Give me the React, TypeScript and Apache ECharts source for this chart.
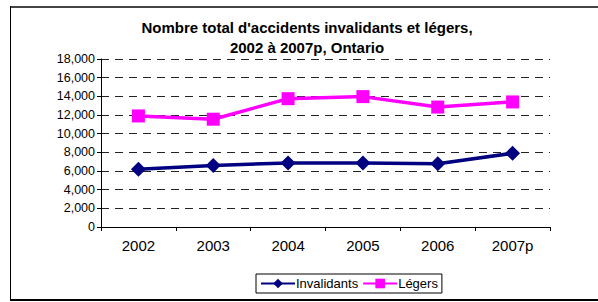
import React, { useEffect, useRef } from "react";
import * as echarts from "echarts";

const categories = ["2002", "2003", "2004", "2005", "2006", "2007p"];
const invalidants = [6200, 6580, 6870, 6860, 6780, 7900];
const legers = [11900, 11550, 13750, 13970, 12850, 13400];
const titleLines = ["Nombre total d'accidents invalidants et légers,", "2002 à 2007p, Ontario"];

const FONT = "'Liberation Sans', Arial, sans-serif";

export default function App() {
  const ref = useRef<HTMLDivElement>(null);
  useEffect(() => {
    document.body.style.margin = "0";
    const chart = echarts.init(ref.current!, null, { renderer: "svg" });
    chart.setOption({
      animation: false,
      backgroundColor: "#fff",
      title: {
        text: titleLines.join("\n"),
        left: 302,
        top: 12,
        textAlign: "center",
        textStyle: { fontFamily: FONT, fontSize: 15, fontWeight: "bold", color: "#000", lineHeight: 20 },
      },
      graphic: [
        { type: "line", shape: { x1: 10, y1: 7, x2: 598, y2: 7 }, style: { stroke: "#444", lineWidth: 2 } },
        { type: "line", shape: { x1: 10.5, y1: 6, x2: 10.5, y2: 300 }, style: { stroke: "#000", lineWidth: 1 } },
        { type: "line", shape: { x1: 10, y1: 300, x2: 598, y2: 300 }, style: { stroke: "#000", lineWidth: 2 } },
      ],
      grid: { left: 101, top: 59, width: 449, height: 168, containLabel: false },
      legend: {
        left: 256,
        top: 274,
        padding: [3, 4, 3, 4],
        borderColor: "#000",
        borderWidth: 1,
        itemWidth: 34,
        itemHeight: 12,
        itemGap: 4,
        textStyle: { fontFamily: FONT, fontSize: 13, color: "#000", padding: [0, 0, 0, -4] },
        data: ["Invalidants", "Légers"],
      },
      xAxis: {
        type: "category",
        data: categories,
        boundaryGap: true,
        axisLine: { lineStyle: { color: "#000", width: 1 } },
        axisTick: { show: true, length: 4, lineStyle: { color: "#000" } },
        axisLabel: { fontFamily: FONT, fontSize: 15, color: "#000", margin: 11 },
        splitLine: { show: false },
      },
      yAxis: {
        type: "value",
        min: 0,
        max: 18000,
        interval: 2000,
        axisLine: { show: true, lineStyle: { color: "#000", width: 1 } },
        axisTick: { show: true, length: 4, lineStyle: { color: "#000" } },
        axisLabel: {
          fontFamily: FONT,
          fontSize: 12.5,
          color: "#000",
          margin: 6,
          formatter: (v: number) => v.toLocaleString("en-US"),
        },
        splitLine: { show: true, lineStyle: { color: "#222", width: 1.2, type: [8, 6] } },
      },
      series: [
        {
          name: "Invalidants",
          type: "line",
          data: invalidants,
          symbol: "diamond",
          symbolSize: 15,
          itemStyle: { color: "#000080" },
          lineStyle: { color: "#000080", width: 3.5 },
        },
        {
          name: "Légers",
          type: "line",
          data: legers,
          symbol: "rect",
          symbolSize: 13,
          itemStyle: { color: "#FF00FF" },
          lineStyle: { color: "#FF00FF", width: 3.5 },
        },
      ],
    });
    return () => chart.dispose();
  }, []);
  return <div ref={ref} style={{ width: 598, height: 302 }} />;
}
